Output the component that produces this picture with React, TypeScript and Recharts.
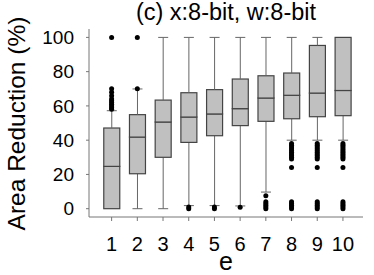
import * as React from "react";
import {Bar, ComposedChart, Scatter, XAxis, YAxis} from "recharts";

// values (Area Reduction %, per e)
const groups = [1, 2, 3, 4, 5, 6, 7, 8, 9, 10];
const mins = [0, 0, 0, 1.8, 1.8, 1.6, 9.7, 40, 40, 40];
const q1s = [0, 20.4, 30, 38.7, 42.6, 48.5, 51, 52.5, 53.7, 54.3];
const medians = [24.7, 41.8, 50.6, 53.5, 55.3, 58.4, 64.6, 66.2, 67.5, 69];
const q3s = [47.1, 54.9, 63.4, 67.7, 69.5, 75.7, 77.6, 79.2, 95.3, 100];
const maxs = [57.2, 69.9, 100, 100, 100, 100, 100, 100, 100, 100];
const outliers: number[][] = [
    [58, 59, 60, 61, 62, 63, 64, 66, 68, 70, 100],
    [70, 100],
    [],
    [0, 1],
    [0, 1],
    [0.8],
    [0, 1, 2, 3, 4, 7.5],
    [0, 1, 2, 3, 4, 24, 29, 30, 31, 32, 33, 34, 35, 36, 37, 38],
    [0, 1, 2, 3, 4, 24, 29, 30, 31, 32, 33, 34, 35, 36, 37, 38],
    [0, 1, 2, 3, 4, 24, 29, 30, 31, 32, 33, 34, 35, 36, 37, 38],
];
const yTicks = [0, 20, 40, 60, 80, 100];

const boxes = groups.map((g, i) => ({
    x: g,
    base: mins[i],
    lowW: q1s[i] - mins[i],
    boxLo: medians[i] - q1s[i],
    boxHi: q3s[i] - medians[i],
    highW: maxs[i] - q3s[i],
}));
const points = groups.flatMap((g, i) => outliers[i].map(v => ({x: g, y: v})));

const FONT = "'Liberation Sans', Arial, sans-serif";
const FRAME = "#777";
const BOX_FILL = "#c0c0c0";
const BOX_STROKE = "#444";
const CAP = 10;

const LowWhisker = (p: any) => {
    if (!p.height || p.height <= 0.5) return <g/>;
    const cx = p.x + p.width / 2;
    const bottom = p.y + p.height;
    return (
        <g stroke="#666" strokeWidth={1}>
            <line x1={cx} x2={cx} y1={p.y} y2={bottom}/>
            <line x1={cx - CAP / 2} x2={cx + CAP / 2} y1={bottom} y2={bottom}/>
        </g>
    );
};

const HighWhisker = (p: any) => {
    if (!p.height || p.height <= 0.5) return <g/>;
    const cx = p.x + p.width / 2;
    return (
        <g stroke="#666" strokeWidth={1}>
            <line x1={cx} x2={cx} y1={p.y} y2={p.y + p.height}/>
            <line x1={cx - CAP / 2} x2={cx + CAP / 2} y1={p.y} y2={p.y}/>
        </g>
    );
};

const BoxPart = (p: any) => {
    if (p.height == null || p.width == null) return <g/>;
    return <rect x={p.x} y={p.y} width={p.width} height={Math.max(p.height, 0)}
                 fill={BOX_FILL} stroke={BOX_STROKE} strokeWidth={1.2}/>;
};

const Dot = (p: any) => <circle cx={p.cx} cy={p.cy} r={2.5} fill="#000"/>;

export default function App() {
    return (
        <div style={{position: "absolute", left: 0, top: 0, width: 374, height: 275, background: "#fff"}}>
            <ComposedChart width={374} height={275} data={boxes}
                           margin={{top: 29, right: 11, bottom: 0, left: 0}}>
                <XAxis dataKey="x" type="number" domain={[0.12, 10.78]} allowDataOverflow
                       ticks={groups} interval={0} height={58} tickSize={4} tickMargin={16}
                       stroke={FRAME} tick={{fill: "#000", fontSize: 20, fontFamily: FONT}}/>
                <XAxis xAxisId="top" orientation="top" type="number" domain={[0.12, 10.78]}
                       height={0} tick={false} tickLine={false} stroke={FRAME}/>
                <YAxis type="number" domain={[-4.85, 104.9]} allowDataOverflow ticks={yTicks}
                       interval={0} width={89} tickSize={3} tickMargin={12} stroke={FRAME}
                       tick={{fill: "#000", fontSize: 19, fontFamily: FONT}}/>
                <YAxis yAxisId="right" orientation="right" type="number" domain={[-4.85, 104.9]}
                       width={0} tick={false} tickLine={false} stroke={FRAME}/>
                <Bar dataKey="base" stackId="b" barSize={16} fill="none" isAnimationActive={false}/>
                <Bar dataKey="lowW" stackId="b" barSize={16} shape={LowWhisker} isAnimationActive={false}/>
                <Bar dataKey="boxLo" stackId="b" barSize={16} shape={BoxPart} isAnimationActive={false}/>
                <Bar dataKey="boxHi" stackId="b" barSize={16} shape={BoxPart} isAnimationActive={false}/>
                <Bar dataKey="highW" stackId="b" barSize={16} shape={HighWhisker} isAnimationActive={false}/>
                <Scatter data={points} dataKey="y" shape={Dot} isAnimationActive={false}/>
            </ComposedChart>
            <svg width={374} height={275} style={{position: "absolute", left: 0, top: 0, pointerEvents: "none"}}
                 fontFamily={FONT}>
                <text x={226} y={19.5} textAnchor="middle" fontSize={23.5} fill="#000">(c) x:8-bit, w:8-bit</text>
                <text x={226} y={270} textAnchor="middle" fontSize={25} fill="#000">e</text>
                <text transform="translate(25, 123.5) rotate(-90)" textAnchor="middle" fontSize={24.5}
                      fill="#000">Area Reduction (%)</text>
            </svg>
        </div>
    );
}
